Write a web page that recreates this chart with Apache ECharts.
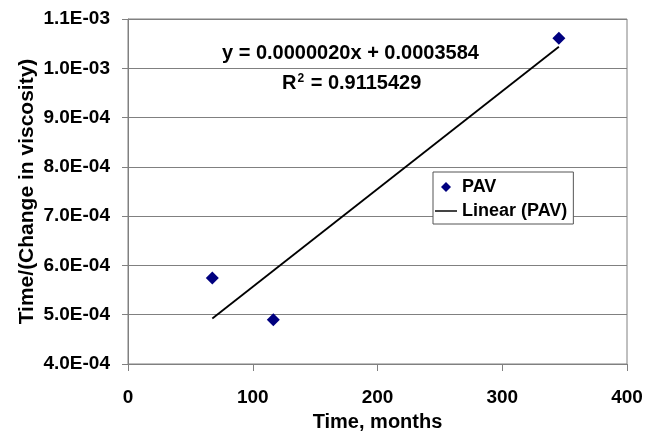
<!DOCTYPE html>
<html>
<head>
<meta charset="utf-8">
<script src="https://cdn.jsdelivr.net/npm/echarts@6/dist/echarts.min.js"></script>
<style>html,body{margin:0;padding:0;background:#fff;}#c{width:648px;height:433px;}</style>
</head>
<body>
<div id="c"></div>
<script>
var pavX = [67.6, 116.5, 345.4];
var pavY = [0.0005744, 0.000490, 0.001061];
var trendX = [67.6, 345.4];
var trendY = [0.0004924, 0.0010436];
var xTicks = [0, 100, 200, 300, 400];
var yTicks = [0.0004, 0.0005, 0.0006, 0.0007, 0.0008, 0.0009, 0.0010, 0.0011];
var equationText = 'y = 0.0000020x + 0.0003584';
var r2Text = '0.9115429';

function fmtE(v) {
  var s = v.toExponential(1).toUpperCase();
  var m = s.match(/^(-?[\d.]+)E([+-])(\d+)$/);
  if (!m) return s;
  var e = m[3].length < 2 ? '0' + m[3] : m[3];
  return m[1] + 'E' + m[2] + e;
}

var FONT = '"Liberation Sans", Arial, sans-serif';
var chart = echarts.init(document.getElementById('c'), null, {renderer: 'canvas'});
chart.setOption({
  backgroundColor: '#ffffff',
  animation: false,
  grid: {left: 128, right: 21, top: 19, bottom: 69, show: true, borderColor: '#808080', borderWidth: 1,
    outerBoundsMode: 'none', containLabel: false},
  xAxis: {
    type: 'value', min: xTicks[0], max: xTicks[xTicks.length - 1], interval: 100,
    name: 'Time, months', nameLocation: 'middle', nameGap: 48, nameMoveOverlap: false,
    nameTextStyle: {fontFamily: FONT, fontWeight: 'bold', fontSize: 20, color: '#000'},
    axisLine: {show: true, lineStyle: {color: '#808080', width: 1}},
    axisTick: {show: true, inside: false, length: 7, lineStyle: {color: '#808080'}},
    axisLabel: {fontFamily: FONT, fontWeight: 'bold', fontSize: 19, color: '#000', margin: 24},
    splitLine: {show: false}
  },
  yAxis: {
    type: 'value', min: yTicks[0], max: yTicks[yTicks.length - 1], interval: 0.0001,
    name: 'Time/(Change in viscosity)', nameLocation: 'middle', nameGap: 90, nameMoveOverlap: false,
    nameTextStyle: {fontFamily: FONT, fontWeight: 'bold', fontSize: 21, color: '#000'},
    axisLine: {show: true, lineStyle: {color: '#808080', width: 1}},
    axisTick: {show: true, inside: false, length: 6, lineStyle: {color: '#808080'}},
    axisLabel: {fontFamily: FONT, fontWeight: 'bold', fontSize: 19, color: '#000', margin: 18,
      formatter: function (v) { return fmtE(v); }},
    splitLine: {show: true, lineStyle: {color: '#808080', width: 1}}
  },
  legend: {
    orient: 'vertical', left: 433, top: 172,
    backgroundColor: '#fff', borderColor: '#555', borderWidth: 1,
    padding: [5, 6, 3, 2], itemGap: 4, itemWidth: 22, itemHeight: 10,
    textStyle: {fontFamily: FONT, fontWeight: 'bold', fontSize: 18, color: '#000', lineHeight: 20},
    data: [
      {name: 'PAV', icon: 'path://M5 0L10 5L5 10L0 5Z', itemStyle: {color: '#00007f', opacity: 1}},
      {name: 'Linear (PAV)', icon: 'path://M0 0H24V1.6H0Z'}
    ]
  },
  graphic: [
    {type: 'text', left: 222, top: 43, z: 10,
      style: {text: equationText, font: 'bold 20px ' + FONT, fill: '#000'}},
    {type: 'text', left: 282, top: 73, z: 10,
      style: {text: 'R{sup|2} = ' + r2Text, font: 'bold 20px ' + FONT, fill: '#000',
        rich: {sup: {fontSize: 12, fontWeight: 'bold', fontFamily: FONT, verticalAlign: 'top', padding: [0, 1, 8, 1]}}}}
  ],
  series: [
    {name: 'Linear (PAV)', type: 'line', showSymbol: false, symbol: 'none',
      lineStyle: {color: '#000', width: 1.8}, itemStyle: {color: '#000'},
      data: trendX.map(function (x, i) { return [x, trendY[i]]; }), z: 2},
    {name: 'PAV', type: 'scatter', symbol: 'diamond', symbolSize: 13,
      itemStyle: {color: '#00007f', opacity: 1},
      data: pavX.map(function (x, i) { return [x, pavY[i]]; }), z: 3}
  ]
});
</script>
</body>
</html>
